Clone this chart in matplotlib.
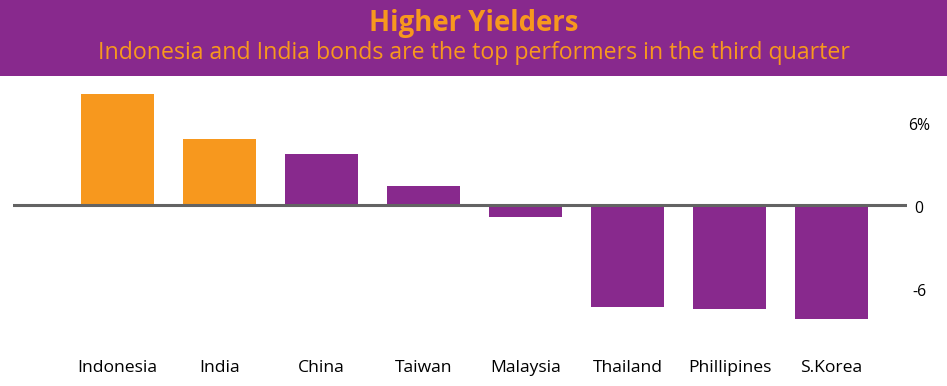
import matplotlib
matplotlib.use("Agg")
import matplotlib.pyplot as plt
from matplotlib.patches import Rectangle

categories = ["Indonesia", "India", "China", "Taiwan", "Malaysia", "Thailand", "Phillipines", "S.Korea"]
values = [8.0, 4.75, 3.7, 1.4, -0.85, -7.3, -7.5, -8.2]
highlight = ["Indonesia", "India"]
ytick_vals = [6, 0, -6]
ytick_labels = ["6%", "0", "-6"]
title = "Higher Yielders"
subtitle = "Indonesia and India bonds are the top performers in the third quarter"

PURPLE = "#88298D"
ORANGE = "#F7981E"
W, H = 947, 386

fig = plt.figure(figsize=(W / 100, H / 100), dpi=100)
fig.patch.set_facecolor("white")

# header band
fig.add_artist(Rectangle((0, 1 - 76 / H), 1, 76 / H, transform=fig.transFigure,
                         facecolor=PURPLE, edgecolor="none", zorder=0))
fam = ["Open Sans", "DejaVu Sans"]
fig.text(0.5, 1 - 23 / H, title, ha="center", va="center", color=ORANGE,
         fontsize=19.8, fontweight="bold", family=fam)
fig.text(0.5, 1 - 53 / H, subtitle, ha="center", va="center", color=ORANGE,
         fontsize=16.7, family=fam)

# axes: x from 13 px to 907 px, y from 85 to 330 px (top-down)
left, right, top, bottom = 13, 907, 85, 330
ax = fig.add_axes([left / W, 1 - bottom / H, (right - left) / W, (bottom - top) / H])
ax.set_facecolor("none")
x = list(range(len(categories)))
colors = [ORANGE if c in highlight else PURPLE for c in categories]
ax.bar(x, values, width=0.716, color=colors, zorder=2)
ax.set_xlim(-1.0245, 7.74)
ax.set_ylim(-8.99, 8.63)
ax.axhline(0, color="#636363", lw=2.2, zorder=3)
for s in ax.spines.values():
    s.set_visible(False)
ax.set_xticks([])
ax.set_yticks([])

# y tick labels on right
for v, lab in zip(ytick_vals, ytick_labels):
    ax.annotate(lab, xy=(1, v), xycoords=("axes fraction", "data"),
                xytext=(12, -4), textcoords="offset pixels",
                ha="center", va="center", fontsize=11.3, family=fam,
                color="black")

# category labels
for xi, c in zip(x, categories):
    ax.annotate(c, xy=(xi, 0), xycoords=("data", "figure pixels"),
                xytext=(0, H - 368), textcoords="offset pixels",
                ha="center", va="center", fontsize=12.6, family=fam, color="black")

fig.savefig("out.png", dpi=100)
